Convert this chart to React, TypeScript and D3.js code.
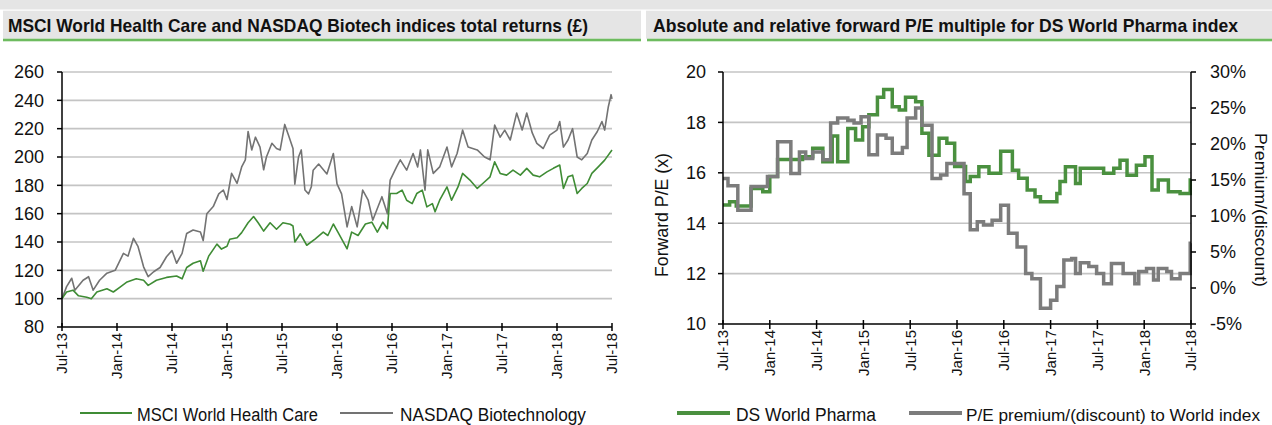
import React from 'react';
import * as d3 from 'd3';

// months since Jul-13 for the x axis of both charts
const xTickMonths = [0, 6, 12, 18, 24, 30, 36, 42, 48, 54, 60];
const xTickLabels = ['Jul-13', 'Jan-14', 'Jul-14', 'Jan-15', 'Jul-15', 'Jan-16', 'Jul-16', 'Jan-17', 'Jul-17', 'Jan-18', 'Jul-18'];

// left chart: total return indices (rebased 100)
const leftYTicks = [80, 100, 120, 140, 160, 180, 200, 220, 240, 260];

const msciMonths = [0, 0.5, 1.2, 1.8, 2.7, 3.2, 3.8, 4.9, 5.6, 6.3, 7.1, 8.1, 8.9, 9.4, 10.3, 11.4, 12.5, 13.1, 13.6, 14.3, 15.1, 15.4, 16.0, 16.9, 17.4, 18.0, 18.3, 19.1, 19.6, 20.3, 20.9, 21.4, 22.0, 22.7, 23.4, 24.1, 24.9, 25.2, 25.4, 26.0, 26.7, 27.6, 28.5, 29.0, 29.6, 30.1, 31.1, 31.6, 32.3, 33.1, 33.8, 34.4, 35.0, 35.5, 35.8, 36.5, 37.1, 37.6, 38.2, 38.7, 39.3, 39.8, 40.4, 40.7, 41.2, 42.0, 42.5, 43.2, 43.7, 44.5, 45.3, 45.9, 46.7, 47.2, 47.8, 48.5, 49.2, 50.0, 50.7, 51.4, 52.1, 52.9, 53.6, 54.3, 54.7, 55.2, 55.7, 56.2, 56.7, 57.3, 57.8, 58.5, 59.2, 60];
const msciValues = [100, 104.7, 106, 102, 101, 100, 104.7, 107, 104.7, 108, 111.8, 114, 113, 109.4, 113, 115, 116, 114, 122, 125, 126.8, 119.4, 130, 138.5, 135, 137, 142, 143, 146.6, 153.6, 158, 153.6, 147.7, 153.6, 149, 153.6, 152.5, 151.3, 140, 145.8, 137.7, 142, 147, 144.6, 152.7, 147, 135.2, 147, 144.6, 152.7, 154, 147, 154, 149.4, 174.2, 174.2, 176.6, 169.5, 167.1, 174.2, 176.6, 164.8, 167.1, 161.3, 169.5, 178.9, 169.5, 178.9, 188.4, 183.7, 177.8, 181.3, 186, 196.6, 188.4, 187.2, 190.7, 187.2, 192, 187.2, 186, 189.5, 192, 194.3, 177.8, 186, 187.2, 174.2, 177.8, 181.3, 188.4, 193, 197.8, 204.9];

const nasdaqMonths = [0, 0.5, 1.06, 1.4, 2.3, 2.9, 3.4, 4.1, 4.9, 5.8, 6.7, 7.2, 7.8, 8.3, 8.9, 9.4, 10.0, 10.7, 11.4, 12.0, 12.5, 13.1, 13.6, 14.3, 15.1, 15.4, 15.8, 16.5, 17.1, 17.6, 18.0, 18.5, 19.1, 19.6, 20.0, 20.3, 20.7, 21.1, 21.6, 22.0, 22.3, 22.9, 23.4, 23.8, 24.3, 24.7, 25.2, 25.4, 25.8, 26.1, 26.5, 26.9, 27.2, 27.4, 28.0, 28.9, 29.6, 30.0, 30.5, 31.1, 31.6, 32.2, 32.8, 33.4, 33.9, 34.9, 35.5, 35.8, 36.5, 36.9, 37.6, 38.3, 38.8, 39.1, 39.6, 39.9, 40.5, 41.2, 42.0, 42.5, 43.1, 43.7, 44.3, 45.3, 46.1, 46.7, 47.2, 47.8, 48.3, 48.9, 49.6, 50.2, 50.7, 51.3, 51.8, 52.5, 53.2, 54.0, 54.3, 54.7, 55.2, 55.7, 56.2, 56.7, 57.3, 57.8, 58.4, 58.9, 59.2, 59.6, 59.9, 60];
const nasdaqValues = [100, 108.5, 114.4, 106, 113, 115.5, 106, 113, 118, 120, 132, 130, 142.6, 136.7, 122.5, 115.5, 119, 122, 129.6, 134, 125, 132, 146, 148.5, 147, 141, 160, 165, 174, 176.7, 170, 188.5, 181.4, 193, 198, 218, 205, 214, 207, 191, 200, 209.7, 206, 205, 223, 215.5, 206, 180.8, 200, 205, 176.7, 174, 179, 190.7, 195, 188, 202.5, 181, 174, 150.7, 165, 150.7, 176.6, 169.5, 155.4, 172, 160, 183.7, 193, 198, 190.7, 202.5, 193, 205, 176.6, 205, 188.4, 193, 207, 193, 202.5, 219, 207, 205, 200, 198, 222.5, 214, 219, 212, 231, 219, 231, 217, 209.6, 206, 215.5, 219, 225, 207, 212, 220, 200, 198, 202.5, 212, 218, 225, 219, 235.5, 244, 241];

// right chart: forward P/E (left axis) and premium to World (right axis), step series
const peYTicks = [10, 12, 14, 16, 18, 20];
const premYTicks = [-5, 0, 5, 10, 15, 20, 25, 30];

const pharmaMonths = [0, 0.85, 1.7, 3.6, 5.1, 6.0, 7.0, 10.2, 11.5, 12.8, 14.0, 14.7, 16.0, 17.0, 17.9, 18.7, 19.8, 20.6, 21.7, 22.6, 23.4, 24.7, 25.5, 26.4, 27.7, 28.7, 29.7, 31.1, 31.7, 32.8, 34.1, 35.6, 37.1, 37.9, 39.0, 40.0, 40.7, 42.8, 43.2, 43.9, 45.2, 45.8, 48.8, 50.1, 50.9, 51.8, 53.0, 54.1, 55.0, 55.8, 57.1, 58.6, 59.9, 60];
const pharmaPE = [14.72, 14.85, 14.68, 15.38, 15.25, 15.85, 16.53, 16.64, 16.97, 16.44, 17.46, 16.44, 17.76, 17.3, 17.83, 18.3, 19.0, 19.31, 18.62, 18.49, 19.0, 18.82, 17.57, 16.7, 17.37, 17.17, 16.25, 15.65, 15.85, 16.24, 15.98, 16.86, 16.1, 15.78, 15.32, 15.05, 14.85, 15.18, 15.65, 16.24, 15.58, 16.18, 15.98, 16.18, 16.5, 15.9, 16.3, 16.64, 15.32, 15.71, 15.25, 15.18, 15.71, 15.71];

const premMonths = [0, 0.64, 1.9, 3.6, 5.7, 7.0, 8.7, 9.8, 10.6, 11.5, 12.8, 13.8, 14.7, 16.0, 16.8, 17.7, 18.7, 19.8, 20.9, 21.7, 23.0, 23.6, 24.7, 25.5, 26.8, 27.9, 28.7, 30.9, 31.7, 32.6, 33.4, 34.5, 35.6, 36.6, 37.7, 38.8, 39.6, 40.7, 42.0, 42.8, 43.7, 44.7, 45.2, 45.8, 46.9, 47.9, 48.8, 49.8, 51.3, 52.8, 53.3, 54.3, 55.2, 55.8, 56.9, 57.5, 58.6, 59.9, 60];
const premValues = [15.2, 14.2, 10.8, 14.1, 15.5, 20.3, 15.9, 18.9, 18.0, 18.9, 17.8, 22.9, 23.6, 23.3, 22.9, 23.8, 18.5, 21.25, 20.8, 18.7, 19.5, 23.6, 25.0, 22.6, 15.2, 15.7, 17.3, 13.1, 8.1, 9.2, 8.75, 9.4, 11.5, 7.6, 5.7, 2.0, 1.3, -2.8, -1.7, 0.2, 3.9, 4.1, 2.0, 3.5, 3.0, 2.0, 0.6, 3.4, 2.0, 0.6, 2.3, 2.7, 1.1, 2.7, 2.3, 1.3, 2.0, 6.2, 6.2];

const GREEN = '#3f8c35';
const GRAY = '#737373';
const GREEN_R = '#4a903f';
const GRAY_R = '#7c7c7c';
const FONT = "'Liberation Sans', Arial, sans-serif";

const App = () => {
  const W = 1272;
  const H = 425;

  // left chart scales
  const xL = d3.scaleLinear().domain([0, 60]).range([62, 612]);
  const yL = d3.scaleLinear().domain([80, 260]).range([327, 72]);
  const mkLine = (ms: number[], vs: number[]) =>
    d3.line<number>().x(d => xL(ms[d])).y(d => yL(vs[d]))(d3.range(ms.length));

  // right chart scales
  const xR = d3.scaleLinear().domain([0, 60]).range([723, 1191]);
  const yR = d3.scaleLinear().domain([10, 20]).range([324, 72]);
  const yR2 = d3.scaleLinear().domain([-5, 30]).range([324, 72]);
  const stepPE = d3.line<number>().curve(d3.curveStepAfter)
    .x(d => xR(pharmaMonths[d])).y(d => yR(pharmaPE[d]))(d3.range(pharmaMonths.length));
  const stepPrem = d3.line<number>().curve(d3.curveStepAfter)
    .x(d => xR(premMonths[d])).y(d => yR2(premValues[d]))(d3.range(premMonths.length));

  return (
    <svg width={W} height={H} style={{ position: 'absolute', left: 0, top: 0, background: '#fff' }}
      fontFamily={FONT}>
      {/* header bands */}
      <rect x={0} y={0} width={W} height={9.5} fill='#e5e5e5' />
      <rect x={3} y={10.7} width={638} height={28} fill='#e5e5e5' />
      <rect x={3} y={38.7} width={638} height={2.6} fill='#6dbb5f' />
      <rect x={646} y={10.7} width={626} height={28} fill='#e5e5e5' />
      <rect x={647} y={38.7} width={625} height={2.6} fill='#6dbb5f' />
      <text x={8} y={32} fontSize={18.5} fontWeight='bold' fill='#111'
        textLength={580} lengthAdjust='spacingAndGlyphs'>
        MSCI World Health Care and NASDAQ Biotech indices total returns (£)
      </text>
      <text x={653} y={32} fontSize={18.5} fontWeight='bold' fill='#111'
        textLength={585} lengthAdjust='spacingAndGlyphs'>
        Absolute and relative forward P/E multiple for DS World Pharma index
      </text>

      {/* left chart */}
      <g>
        {leftYTicks.filter(t => t > 80).map(t => (
          <line key={t} x1={62} x2={612} y1={yL(t)} y2={yL(t)} stroke='#c4c4c4' strokeWidth={1.6} />
        ))}
        <path d={mkLine(nasdaqMonths, nasdaqValues) || ''} fill='none' stroke={GRAY} strokeWidth={1.6} strokeLinejoin='round' />
        <path d={mkLine(msciMonths, msciValues) || ''} fill='none' stroke={GREEN} strokeWidth={1.6} strokeLinejoin='round' />
        <line x1={62} x2={62} y1={72} y2={327} stroke='#000' strokeWidth={1.5} />
        <line x1={62} x2={612} y1={327} y2={327} stroke='#000' strokeWidth={1.5} />
        {leftYTicks.map(t => (
          <g key={t}>
            <line x1={57} x2={62} y1={yL(t)} y2={yL(t)} stroke='#000' strokeWidth={1.5} />
            <text x={44} y={yL(t)} dy='0.35em' textAnchor='end' fontSize={18} fill='#111'>{t}</text>
          </g>
        ))}
        {xTickMonths.map((m, i) => (
          <g key={m}>
            <line x1={xL(m)} x2={xL(m)} y1={323} y2={331} stroke='#000' strokeWidth={1.5} />
            <text transform={`translate(${xL(m)},333) rotate(-90)`} dy='0.36em' textAnchor='end'
              fontSize={15} fill='#111'>{xTickLabels[i]}</text>
          </g>
        ))}
        {/* legend */}
        <line x1={80} x2={132} y1={413} y2={413} stroke={GREEN} strokeWidth={2} />
        <text x={137} y={421} fontSize={18} fill='#111' textLength={181} lengthAdjust='spacingAndGlyphs'>MSCI World Health Care</text>
        <line x1={340} x2={393} y1={413} y2={413} stroke={GRAY} strokeWidth={2} />
        <text x={400} y={421} fontSize={18} fill='#111' textLength={186} lengthAdjust='spacingAndGlyphs'>NASDAQ Biotechnology</text>
      </g>

      {/* right chart */}
      <g>
        {peYTicks.filter(t => t > 10).map(t => (
          <line key={t} x1={723} x2={1191} y1={yR(t)} y2={yR(t)} stroke='#c4c4c4' strokeWidth={1.6} />
        ))}
        <path d={stepPE || ''} fill='none' stroke={GREEN_R} strokeWidth={3.5} />
        <path d={stepPrem || ''} fill='none' stroke={GRAY_R} strokeWidth={3.5} />
        <line x1={723} x2={723} y1={72} y2={324} stroke='#000' strokeWidth={1.5} />
        <line x1={1191} x2={1191} y1={72} y2={324} stroke='#000' strokeWidth={1.5} />
        <line x1={723} x2={1191} y1={324} y2={324} stroke='#000' strokeWidth={1.5} />
        {peYTicks.map(t => (
          <g key={t}>
            <line x1={718} x2={723} y1={yR(t)} y2={yR(t)} stroke='#000' strokeWidth={1.5} />
            <text x={706} y={yR(t)} dy='0.35em' textAnchor='end' fontSize={18} fill='#111'>{t}</text>
          </g>
        ))}
        {premYTicks.map(t => (
          <g key={t}>
            <line x1={1191} x2={1196} y1={yR2(t)} y2={yR2(t)} stroke='#000' strokeWidth={1.5} />
            <text x={1210} y={yR2(t)} dy='0.35em' textAnchor='start' fontSize={18} fill='#111'>{t}%</text>
          </g>
        ))}
        {xTickMonths.map((m, i) => (
          <g key={m}>
            <line x1={xR(m)} x2={xR(m)} y1={320} y2={329} stroke='#000' strokeWidth={1.5} />
            <text transform={`translate(${xR(m)},330) rotate(-90)`} dy='0.36em' textAnchor='end'
              fontSize={15} fill='#111'>{xTickLabels[i]}</text>
          </g>
        ))}
        <text transform='translate(662,215) rotate(-90)' textAnchor='middle' dy='0.35em' fontSize={18}
          fill='#111' textLength={124} lengthAdjust='spacingAndGlyphs'>Forward P/E (x)</text>
        <text transform='translate(1261,210) rotate(90)' textAnchor='middle' dy='0.35em' fontSize={17}
          fill='#111' textLength={154} lengthAdjust='spacingAndGlyphs'>Premium/(discount)</text>
        {/* legend */}
        <line x1={677} x2={730} y1={413} y2={413} stroke={GREEN_R} strokeWidth={4} />
        <text x={736} y={421} fontSize={18} fill='#111' textLength={140} lengthAdjust='spacingAndGlyphs'>DS World Pharma</text>
        <line x1={909} x2={962} y1={413} y2={413} stroke={GRAY_R} strokeWidth={4} />
        <text x={966} y={421} fontSize={17} fill='#111' textLength={294} lengthAdjust='spacingAndGlyphs'>P/E premium/(discount) to World index</text>
      </g>
    </svg>
  );
};

export default App;
